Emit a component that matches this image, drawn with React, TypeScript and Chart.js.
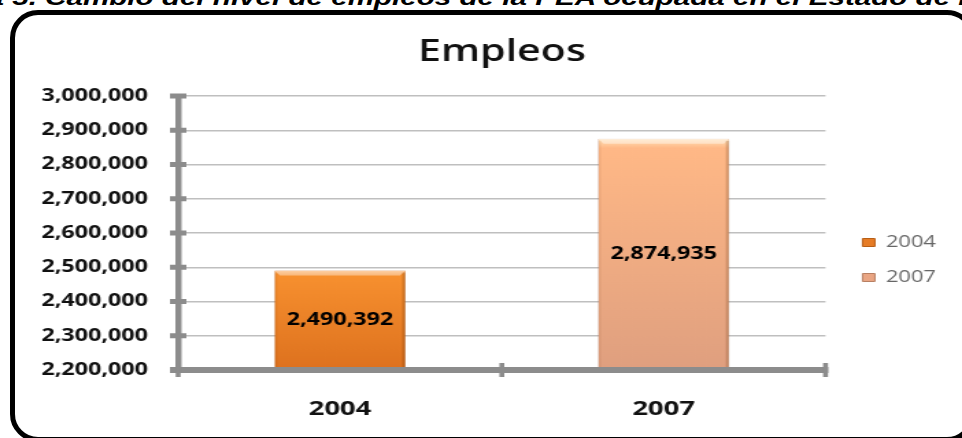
import React, { useEffect, useRef } from 'react';
import { Chart, registerables } from 'chart.js';

Chart.register(...registerables);

const pageCaption = 'Gráfica 5. Cambio del nivel de empleos de la PEA ocupada en el Estado de México';
const chartTitle = 'Empleos';
const categories = ['2004', '2007'];
const seriesNames = ['2004', '2007'];
const values2004 = [2490392, null];
const values2007 = [null, 2874935];
const yMin = 2200000;
const yMax = 3000000;
const yStep = 100000;

const STRETCH = 1.3704;
const CW = 702;
const CH = 438;

const fmt = (v: number) => Math.round(v).toLocaleString('en-US');

function gradientFor(stops: string[]) {
  return (ctx: any) => {
    const chart = ctx.chart;
    const v = ctx.raw;
    if (!chart.chartArea || v == null || !chart.scales.y) return stops[1];
    const ys = chart.scales.y;
    const top = ys.getPixelForValue(v);
    const bottom = ys.getPixelForValue(ys.min);
    const g = chart.ctx.createLinearGradient(0, top, 0, bottom);
    g.addColorStop(0, stops[0]);
    g.addColorStop(0.04, stops[1]);
    g.addColorStop(1, stops[2]);
    return g;
  };
}

const decorPlugin = {
  id: 'decor',
  afterDatasetsDraw(chart: any) {
    const { ctx, chartArea } = chart;
    const xs = chart.scales.x;
    const ys = chart.scales.y;
    ctx.save();
    chart.data.datasets.forEach((ds: any, di: number) => {
      const meta = chart.getDatasetMeta(di);
      meta.data.forEach((el: any, i: number) => {
        const v = ds.data[i];
        if (v == null) return;
        const left = el.x - el.width / 2;
        const right = el.x + el.width / 2;
        const top = el.y;
        const base = Math.min(el.base, chartArea.bottom);
        const b = 4;
        ctx.fillStyle = 'rgba(255,255,255,0.4)';
        ctx.beginPath();
        ctx.moveTo(left, top);
        ctx.lineTo(right, top);
        ctx.lineTo(right - b, top + 5);
        ctx.lineTo(left + b, top + 5);
        ctx.closePath();
        ctx.fill();
        ctx.fillStyle = 'rgba(90,40,0,0.2)';
        ctx.fillRect(right - 2.5, top + 2, 2.5, base - top - 2);
        ctx.fillStyle = 'rgba(90,40,0,0.08)';
        ctx.fillRect(left, top + 2, 2, base - top - 2);
        ctx.fillStyle = '#000';
        ctx.font = 'bold 17px "Open Sans"';
        ctx.textAlign = 'center';
        ctx.textBaseline = 'middle';
        ctx.fillText(fmt(v), el.x, (top + base) / 2);
      });
    });
    ctx.fillStyle = '#8C8C8C';
    const ax = chartArea.left;
    const bottom = chartArea.bottom;
    ctx.fillRect(ax - 6, bottom - 3, chartArea.right - ax + 8, 6);
    ys.ticks.forEach((t: any) => {
      const py = ys.getPixelForValue(t.value);
      ctx.fillRect(ax - 6, py - 2.5, 12, 5);
    });
    const n = xs.ticks.length;
    for (let i = 0; i <= n; i++) {
      const px = i === 0 ? ax : i === n ? chartArea.right : (xs.getPixelForValue(i - 1) + xs.getPixelForValue(i)) / 2;
      ctx.fillRect(px - 1.8, bottom - 7, 3.6, 14);
    }
    ctx.restore();
  },
};

export default function App() {
  const ref = useRef<HTMLCanvasElement | null>(null);
  useEffect(() => {
    if (!ref.current) return;
    const chart = new Chart(ref.current, {
      type: 'bar',
      data: {
        labels: categories,
        datasets: [
          {
            label: seriesNames[0],
            data: values2004 as any,
            backgroundColor: gradientFor(['#FBB06A', '#F7902F', '#DD711E']),
            borderColor: '#C96518',
            borderWidth: 0.5,
          },
          {
            label: seriesNames[1],
            data: values2007 as any,
            backgroundColor: gradientFor(['#FFE2B8', '#FFB886', '#DF9F7F']),
            borderColor: '#C98E72',
            borderWidth: 0.5,
          },
        ],
      },
      options: {
        responsive: false,
        animation: false,
        devicePixelRatio: 1,
        layout: { padding: { top: 20, bottom: -10, left: 0, right: 9 } },
        datasets: { bar: { grouped: false, barPercentage: 0.405, categoryPercentage: 1 } } as any,
        plugins: {
          title: {
            display: true,
            text: chartTitle,
            fullSize: false,
            color: '#111',
            font: { family: '"Open Sans"', size: 30, weight: 600 as any, lineHeight: 1.2 },
            padding: { top: 14, bottom: 26 },
          },
          legend: {
            position: 'right',
            fullSize: false,
            align: 'center',
            title: { display: true, text: ' ', font: { size: 10 }, padding: { top: 42, bottom: 0 } },
            labels: {
              boxWidth: 9,
              boxHeight: 8,
              padding: 19,
              color: '#333',
              font: { family: '"Open Sans"', size: 16 },
              generateLabels: () => [
                { text: seriesNames[0], fillStyle: '#E67C25', strokeStyle: '#B85E15', lineWidth: 1, datasetIndex: 0 },
                { text: seriesNames[1], fillStyle: '#E9A583', strokeStyle: '#B87F62', lineWidth: 1, datasetIndex: 1 },
              ] as any,
            },
          },
          tooltip: { enabled: false },
        },
        scales: {
          x: {
            grid: { display: false, drawTicks: false },
            border: { display: true, color: '#8C8C8C', width: 6 },
            ticks: { color: '#111', padding: 27, font: { family: '"Open Sans"', size: 20, weight: 'bold' } },
          },
          y: {
            min: yMin,
            max: yMax,
            grid: { color: '#BFBFBF', lineWidth: 1.5, drawTicks: false },
            border: { display: true, color: '#8C8C8C', width: 4.5 },
            ticks: {
              stepSize: yStep,
              padding: 22,
              color: '#111',
              font: { family: '"Open Sans"', size: 17, weight: 'bold' },
              callback: (v: any) => fmt(Number(v)),
            },
            afterFit: (s: any) => { s.width = 130; },
          },
          y2: {
            position: 'right',
            display: true,
            grid: { display: false, drawTicks: false },
            border: { display: false },
            ticks: { display: false },
            afterFit: (s: any) => { s.width = 8; },
          },
        },
      },
      plugins: [decorPlugin],
    });
    return () => chart.destroy();
  }, []);

  return (
    <div style={{ position: 'fixed', left: 0, top: 0, width: 962, height: 438, overflow: 'hidden', background: '#fff' }}>
      <div
        style={{
          position: 'absolute', left: 10, top: 10, width: 965, height: 432,
          border: '5px solid #000', borderRadius: 28, boxSizing: 'border-box',
        }}
      />
      <div
        style={{
          position: 'absolute', left: -98, top: -15, whiteSpace: 'nowrap',
          transform: `scaleX(${STRETCH})`, transformOrigin: '0 0',
          font: 'italic bold 21.6px "Liberation Sans", Arial, sans-serif', color: '#000', lineHeight: '25px',
        }}
      >
        {pageCaption}
      </div>
      <div style={{ position: 'absolute', left: 0, top: 0, width: CW, height: CH, transform: `scaleX(${STRETCH})`, transformOrigin: '0 0' }}>
        <canvas ref={ref} width={CW} height={CH} style={{ width: CW, height: CH, display: 'block' }} />
      </div>
    </div>
  );
}
